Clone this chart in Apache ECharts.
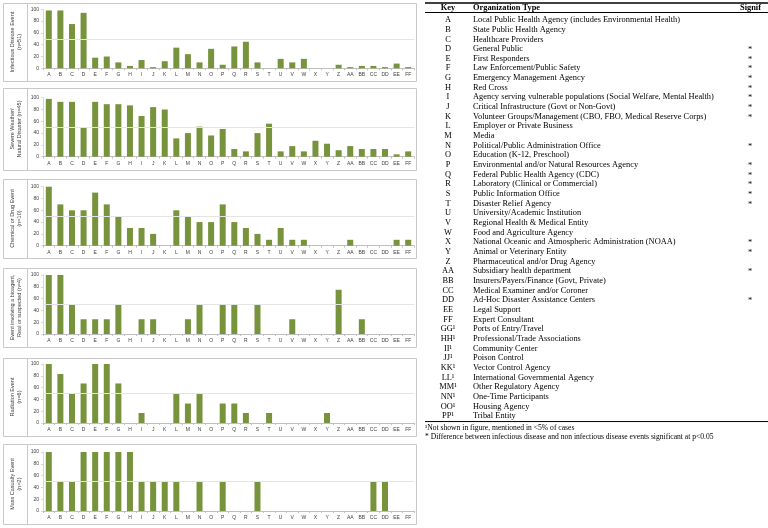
<!DOCTYPE html>
<html><head><meta charset="utf-8">
<script src="https://cdn.jsdelivr.net/npm/echarts@6/dist/echarts.min.js"></script>
<style>html,body{margin:0;padding:0;background:#fff}#c{width:768px;height:528px}</style>
</head><body><div id="c"></div>
<script>
// ---------- data ----------
const categories = ['A','B','C','D','E','F','G','H','I','J','K','L','M','N','O','P','Q','R','S','T','U','V','W','X','Y','Z','AA','BB','CC','DD','EE','FF'];
const yTicks = [0,20,40,60,80,100];
const infectious    = [98,98,75,94,18,20,10,4,14,2,12,35,24,10,33,6,37,45,10,0,16,10,16,0,0,6,2,4,4,2,8,2];
const severeWeather = [98,93,93,49,93,89,89,87,69,84,80,31,40,51,36,47,13,9,40,56,9,18,9,27,22,11,18,13,13,13,4,9];
const chemical      = [100,70,60,60,90,70,50,30,30,20,0,60,50,40,40,70,40,30,20,10,30,10,10,0,0,0,10,0,0,0,10,10];
const bioagent      = [100,100,50,25,25,25,50,0,25,25,0,0,25,50,0,50,50,0,50,0,0,25,0,0,0,75,0,25,0,0,0,0];
const radiation     = [100,83,50,67,100,100,67,0,17,0,0,50,33,50,0,33,33,17,0,17,0,0,0,0,17,0,0,0,0,0,0,0];
const massCasualty  = [100,50,50,100,100,100,100,100,50,50,50,50,0,50,0,50,0,0,50,0,0,0,0,0,0,0,0,0,50,50,0,0];
const panelTitles = [
  'Infectious Disease Event\n(n=51)',
  'Severe Weather/\nNatural Disaster (n=45)',
  'Chemical or Drug Event\n(n=10)',
  'Event involving a bioagent,\nReal or suspected (n=4)',
  'Radiation Event\n(n=6)',
  'Mass Casualty Event\n(n=2)'
];
const tableHeaders = ['Key','Organization Type','Signif'];
const tableKeys = ['A','B','C','D','E','F','G','H','I','J','K','L','M','N','O','P','Q','R','S','T','U','V','W','X','Y','Z','AA','BB','CC','DD','EE','FF','GG¹','HH¹','II¹','JJ¹','KK¹','LL¹','MM¹','NN¹','OO¹','PP¹'];
const tableOrgTypes = [
  'Local Public Health Agency (includes Environmental Health)',
  'State Public Health Agency',
  'Healthcare Providers',
  'General Public',
  'First Responders',
  'Law Enforcement/Public Safety',
  'Emergency Management Agency',
  'Red Cross',
  'Agency serving vulnerable populations (Social Welfare, Mental Health)',
  'Critical Infrastructure (Govt or Non-Govt)',
  'Volunteer Groups/Management (CBO, FBO, Medical Reserve Corps)',
  'Employer or Private Business',
  'Media',
  'Political/Public Administration Office',
  'Education (K-12, Preschool)',
  'Environmental and/or Natural Resources Agency',
  'Federal Public Health Agency (CDC)',
  'Laboratory (Clinical or Commercial)',
  'Public Information Office',
  'Disaster Relief Agency',
  'University/Academic Institution',
  'Regional Health & Medical Entity',
  'Food and Agriculture Agency',
  'National Oceanic and Atmospheric Administration (NOAA)',
  'Animal or Veterinary Entity',
  'Pharmaceutical and/or Drug Agency',
  'Subsidiary health department',
  'Insurers/Payers/Finance (Govt, Private)',
  'Medical Examiner and/or Coroner',
  'Ad-Hoc Disaster Assistance Centers',
  'Legal Support',
  'Expert Consultant',
  'Ports of Entry/Travel',
  'Professional/Trade Associations',
  'Community Center',
  'Poison Control',
  'Vector Control Agency',
  'International Governmental Agency',
  'Other Regulatory Agency',
  'One-Time Participants',
  'Housing Agency',
  'Tribal Entity'
];
const tableSignif = ['','','','*','*','*','*','*','*','*','*','','','*','','*','*','*','*','*','','','','*','*','','*','','','*','','','','','','','','','','','',''];
const footnotes = ['¹Not shown in figure, mentioned in <5% of cases',
  '* Difference between infectious disease and non infectious disease events significant at p<0.05'];

// ---------- layout ----------
const panelData = [infectious, severeWeather, chemical, bioagent, radiation, massCasualty];
const gridTops = [9.3, 97.7, 186.7, 275, 364, 452];
const boxes = [[3,81],[88,170],[179,258],[268,347],[358,436],[444,524]];
const GRID_LEFT = 43, GRID_W = 371, GRID_H = 59;
const BAR = '#77933C';
const FONT = 'Liberation Sans';

const grids = [], xAxes = [], yAxes = [], series = [], graphic = [];
panelData.forEach((d, i) => {
  grids.push({left: GRID_LEFT, top: gridTops[i], width: GRID_W, height: GRID_H});
  xAxes.push({
    type: 'category', gridIndex: i, data: categories,
    axisLine: {lineStyle: {color: '#bfbfbf', width: 1}},
    axisTick: {show: true, length: 2, lineStyle: {color: '#bfbfbf'}},
    axisLabel: {fontSize: 5, color: '#404040', margin: 4, interval: 0, fontFamily: FONT}
  });
  yAxes.push({
    type: 'value', gridIndex: i, min: 0, max: 100, interval: 20,
    axisLine: {show: true, lineStyle: {color: '#d8d8d8'}},
    axisTick: {show: true, length: 2, lineStyle: {color: '#d8d8d8'}},
    splitLine: {show: false},
    axisLabel: {fontSize: 5, color: '#404040', margin: 4, fontFamily: FONT,
      formatter: v => yTicks.includes(v) ? String(v) : ''}
  });
  series.push({
    type: 'bar', xAxisIndex: i, yAxisIndex: i, data: d, barWidth: 6,
    itemStyle: {color: BAR}, silent: true,
    markLine: {silent: true, symbol: 'none', label: {show: false},
      lineStyle: {color: '#e4e4e4', type: 'solid', width: 1},
      data: [{yAxis: 50}]}
  });
  const [y1, y2] = boxes[i];
  graphic.push({type: 'rect', shape: {x: 3.5, y: y1 + 0.5, width: 413, height: y2 - y1},
    style: {fill: 'none', stroke: '#c8c8c8', lineWidth: 1}, silent: true});
  graphic.push({type: 'line', shape: {x1: 27.5, y1: y1 + 0.5, x2: 27.5, y2: y2 + 0.5},
    style: {stroke: '#c8c8c8', lineWidth: 1}, silent: true});
  graphic.push({type: 'text', x: 16, y: (y1 + y2) / 2, rotation: Math.PI / 2,
    style: {text: panelTitles[i], fontSize: 5.5, fontFamily: FONT, fill: '#404040',
      align: 'center', verticalAlign: 'middle', textAlign: 'center', textVerticalAlign: 'middle', lineHeight: 7},
    silent: true});
});

// ---------- table ----------
const TX0 = 425, TX1 = 768, SERIF = 'Liberation Serif';
const txt = (t, x, y, opts) => Object.assign({type: 'text', x: x, y: y, silent: true,
  style: Object.assign({text: t, fontSize: 8.4, fontFamily: SERIF, fill: '#000',
    align: 'left', verticalAlign: 'middle', textAlign: 'left', textVerticalAlign: 'middle'}, opts || {})});
graphic.push({type: 'line', shape: {x1: TX0, y1: 3, x2: TX1, y2: 3}, style: {stroke: '#000', lineWidth: 1.5}, silent: true});
graphic.push({type: 'line', shape: {x1: TX0, y1: 12.5, x2: TX1, y2: 12.5}, style: {stroke: '#000', lineWidth: 1}, silent: true});
graphic.push(txt(tableHeaders[0], 448, 8, {fontWeight: 'bold', align: 'center', textAlign: 'center'}));
graphic.push(txt(tableHeaders[1], 473, 8, {fontWeight: 'bold'}));
graphic.push(txt(tableHeaders[2], 740, 8, {fontWeight: 'bold'}));
const ROW0 = 20, ROWH = 9.66;
tableKeys.forEach((k, r) => {
  const y = ROW0 + r * ROWH;
  graphic.push(txt(k, 448, y, {align: 'center', textAlign: 'center'}));
  graphic.push(txt(tableOrgTypes[r], 473, y));
  if (tableSignif[r]) graphic.push(txt(tableSignif[r], 748, y + 1));
});
const lastY = ROW0 + (tableKeys.length - 1) * ROWH;
graphic.push({type: 'line', shape: {x1: TX0, y1: lastY + 5.5, x2: TX1, y2: lastY + 5.5}, style: {stroke: '#000', lineWidth: 1}, silent: true});
footnotes.forEach((f, j) => graphic.push(txt(f, TX0, lastY + 12 + j * 9, {fontSize: 7.6})));

const chart = echarts.init(document.getElementById('c'), null, {renderer: 'canvas'});
chart.setOption({
  animation: false,
  backgroundColor: '#fff',
  textStyle: {fontFamily: FONT},
  grid: grids, xAxis: xAxes, yAxis: yAxes, series: series, graphic: graphic
});
</script></body></html>
